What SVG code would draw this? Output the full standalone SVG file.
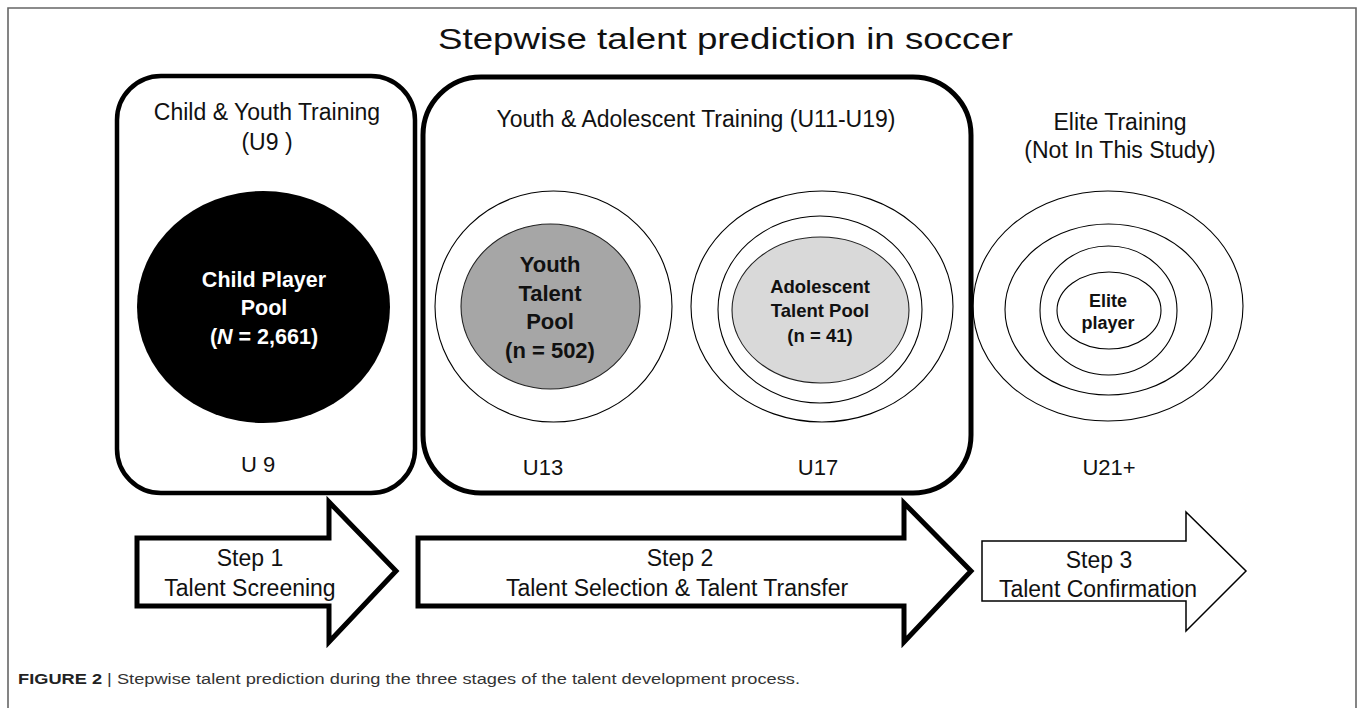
<svg xmlns="http://www.w3.org/2000/svg" width="1358" height="708" viewBox="0 0 1358 708">
  <style>
    .t { font-family: "Liberation Sans", Arial, sans-serif; fill: #111; text-anchor: middle; }
    .hd { font-size: 23px; }
    .age { font-size: 22px; }
    .b { font-weight: bold; }
    .box { fill: none; stroke: #000; }
    .ring { fill: none; stroke: #000; stroke-width: 1.1; }
    .big { fill: #fff; stroke: #000; stroke-width: 5; stroke-linejoin: miter; }
    .thin { fill: #fff; stroke: #000; stroke-width: 1.5; stroke-linejoin: miter; }
  </style>
  <rect width="1358" height="708" fill="#fff"/>
  <path d="M8,708 V8 H1356 V708" fill="none" stroke="#666" stroke-width="1.6"/>

  <text class="t" x="438" y="49" style="font-size:30px;text-anchor:start" textLength="575" lengthAdjust="spacingAndGlyphs">Stepwise talent prediction in soccer</text>

  <g id="stage1">
    <rect class="box" x="117" y="76" width="298" height="417" rx="44" ry="44" stroke-width="4.5"/>
    <text class="t hd" x="267" y="120">Child &amp; Youth Training</text>
    <text class="t hd" x="267" y="150">(U9 )</text>
    <ellipse cx="263.5" cy="307" rx="126.5" ry="116" fill="#000"/>
    <text class="t b" x="264" y="287" style="font-size:21.5px;fill:#fff">Child Player</text>
    <text class="t b" x="264" y="315" style="font-size:21.5px;fill:#fff">Pool</text>
    <text class="t b" x="264" y="344" style="font-size:21.5px;fill:#fff">(<tspan font-style="italic">N</tspan> = 2,661)</text>
    <text class="t age" x="258" y="472">U 9</text>
  </g>

  <g id="stage2">
    <rect class="box" x="423" y="77" width="548" height="416" rx="58" ry="58" stroke-width="5"/>
    <text class="t hd" x="696" y="127">Youth &amp; Adolescent Training (U11-U19)</text>
  </g>

  <g id="u13">
    <ellipse class="ring" cx="553.5" cy="306.5" rx="118.5" ry="115.5" fill="#fff"/>
    <ellipse cx="550.5" cy="306.5" rx="89.5" ry="82.5" fill="#a6a6a6" stroke="#222" stroke-width="1.1"/>
    <text class="t b" x="550" y="272" style="font-size:22px">Youth</text>
    <text class="t b" x="550" y="301" style="font-size:22px">Talent</text>
    <text class="t b" x="550" y="329" style="font-size:22px">Pool</text>
    <text class="t b" x="550" y="358" style="font-size:22px">(n = 502)</text>
    <text class="t age" x="543" y="475">U13</text>
  </g>

  <g id="u17">
    <ellipse class="ring" cx="822" cy="306.5" rx="131" ry="115.5"/>
    <ellipse class="ring" cx="820" cy="309.5" rx="102" ry="93.5"/>
    <ellipse cx="820.5" cy="310" rx="88.5" ry="73" fill="#d9d9d9" stroke="#222" stroke-width="1.1"/>
    <text class="t b" x="820" y="293" style="font-size:18.5px">Adolescent</text>
    <text class="t b" x="820" y="317" style="font-size:18.5px">Talent Pool</text>
    <text class="t b" x="820" y="342" style="font-size:18.5px">(n = 41)</text>
    <text class="t age" x="818" y="475">U17</text>
  </g>

  <g id="stage3">
    <text class="t hd" x="1120" y="130">Elite Training</text>
    <text class="t hd" x="1120" y="158">(Not In This Study)</text>
    <ellipse class="ring" cx="1108" cy="306" rx="135" ry="115"/>
    <ellipse class="ring" cx="1108.5" cy="309.5" rx="103.5" ry="85.5"/>
    <ellipse class="ring" cx="1108.5" cy="310.5" rx="68.5" ry="64.5"/>
    <ellipse class="ring" cx="1109" cy="310.5" rx="52" ry="38.5"/>
    <text class="t b" x="1108" y="307" style="font-size:18px">Elite</text>
    <text class="t b" x="1108" y="329" style="font-size:18px">player</text>
    <text class="t age" x="1109" y="475">U21+</text>
  </g>

  <g id="steps">
    <g id="step1">
      <polygon class="big" points="137,538 329,538 329,502 396,571 329,642 329,606 137,606"/>
      <text class="t hd" x="250" y="566">Step 1</text>
      <text class="t hd" x="250" y="596">Talent Screening</text>
    </g>
    <g id="step2">
      <polygon class="big" points="418,538 904,538 904,503 971,571 904,642 904,606 418,606"/>
      <text class="t hd" x="680" y="566">Step 2</text>
      <text class="t hd" x="677" y="596">Talent Selection &amp; Talent Transfer</text>
    </g>
    <g id="step3">
      <polygon class="thin" points="982,541 1186,541 1186,512 1246,571 1186,631 1186,601 982,601"/>
      <text class="t hd" x="1099" y="568">Step 3</text>
      <text class="t hd" x="1098" y="597">Talent Confirmation</text>
    </g>
  </g>

  <text x="18" y="684" style="font-family:'Liberation Sans', Arial, sans-serif;font-size:15.5px;fill:#333" textLength="782" lengthAdjust="spacingAndGlyphs"><tspan font-weight="bold" fill="#222">FIGURE 2</tspan> | Stepwise talent prediction during the three stages of the talent development process.</text>
</svg>
